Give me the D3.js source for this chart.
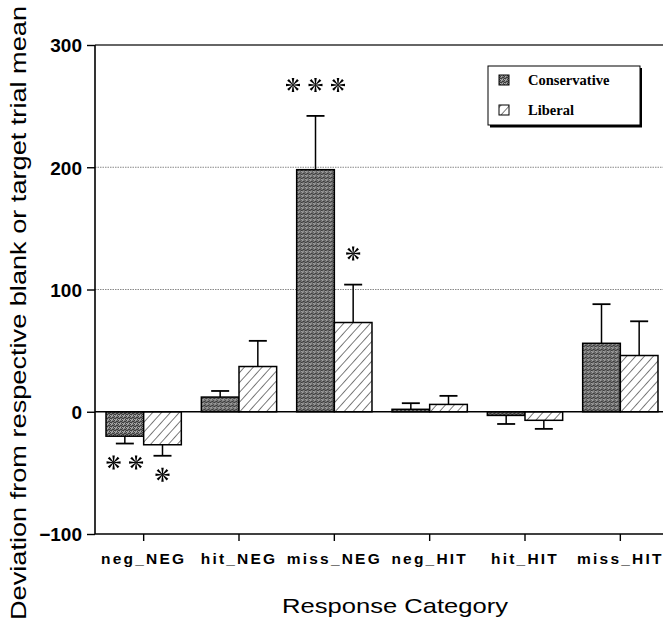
<!DOCTYPE html>
<html>
<head>
<meta charset="utf-8">
<script src="https://cdn.jsdelivr.net/npm/d3@7"></script>
<style>
  html, body { margin: 0; padding: 0; background: #fff; }
  svg { display: block; }
</style>
</head>
<body>
<svg id="chart" width="667" height="625"></svg>
<script>
// Response categories on the x axis
const categories = ["neg_NEG", "hit_NEG", "miss_NEG", "neg_HIT", "hit_HIT", "miss_HIT"];
const seriesNames = ["Conservative", "Liberal"];
// Mean deviation (ms) per category
const conservative = [-20, 12, 198, 2, -3, 56];
const liberal = [-27, 37, 73, 6, -7, 46];
// Error bar half-lengths
const conservativeErr = [6, 5, 44, 5, 7, 32];
const liberalErr = [9, 21, 31, 7, 7, 28];
// Y axis ticks
const yTicks = [-100, 0, 100, 200, 300];
// Significance markers: category, series, number of asterisks
const stars = [
  { cat: "neg_NEG", series: "Conservative", n: 2 },
  { cat: "neg_NEG", series: "Liberal", n: 1 },
  { cat: "miss_NEG", series: "Conservative", n: 3 },
  { cat: "miss_NEG", series: "Liberal", n: 1 }
];

const svg = d3.select("#chart");
const plot = { left: 95, right: 663, top: 45, bottom: 534 };

const y = d3.scaleLinear().domain([-100, 300]).range([plot.bottom, plot.top]);
const x0 = d3.scaleBand().domain(categories).range([96, 668]).paddingInner(0.21).paddingOuter(0.105);
const x1 = d3.scaleBand().domain(seriesNames).range([0, x0.bandwidth()]);

const defs = svg.append("defs");

// Stippled grey fill for the conservative bars
const stip = defs.append("pattern")
  .attr("id", "stipple").attr("patternUnits", "userSpaceOnUse")
  .attr("width", 4).attr("height", 4);
stip.append("rect").attr("width", 4).attr("height", 4).attr("fill", "#7c7c7c");
[[0,0],[2,1],[1,2],[3,3],[3,1],[0,2]].forEach(([a,b]) =>
  stip.append("rect").attr("x", a).attr("y", b).attr("width", 1).attr("height", 1).attr("fill", "#3c3c3c"));
[[1,0],[0,3],[2,3]].forEach(([a,b]) =>
  stip.append("rect").attr("x", a).attr("y", b).attr("width", 1).attr("height", 1).attr("fill", "#b0b0b0"));

// Diagonal hatching for the liberal bars
const hatch = defs.append("pattern")
  .attr("id", "hatch").attr("patternUnits", "userSpaceOnUse")
  .attr("width", 6.6).attr("height", 6.6)
  .attr("patternTransform", "rotate(42)");
hatch.append("rect").attr("width", 6.6).attr("height", 6.6).attr("fill", "#fff");
hatch.append("line").attr("x1", 0).attr("y1", 0).attr("x2", 0).attr("y2", 6.6)
  .attr("stroke", "#111").attr("stroke-width", 1.1);

const fills = { Conservative: "url(#stipple)", Liberal: "url(#hatch)" };

// Grid lines
svg.append("g").selectAll("line").data([100, 200, 300]).join("line")
  .attr("x1", plot.left).attr("x2", plot.right)
  .attr("y1", d => y(d)).attr("y2", d => y(d))
  .attr("stroke", d => d === 300 ? "#333" : "#888")
  .attr("stroke-width", d => d === 300 ? 1.4 : 1)
  .attr("stroke-dasharray", d => d === 300 ? null : "1.5,1");

// Y axis
const yAxis = svg.append("g").attr("transform", `translate(${plot.left},0)`)
  .call(d3.axisLeft(y).tickValues(yTicks).tickSize(8).tickPadding(5).tickFormat(d3.format("d")));
yAxis.select(".domain").attr("stroke-width", 1.6).attr("d", `M0,${plot.top}V${plot.bottom}`);
yAxis.selectAll(".tick line").attr("stroke-width", 1.4);
yAxis.selectAll("text")
  .attr("font-family", "'Liberation Sans', Arial, sans-serif")
  .attr("font-weight", "bold").attr("font-size", 19).attr("fill", "#000")
  .attr("dy", "0.36em");

// X axis
const xAxis = svg.append("g").attr("transform", `translate(0,${plot.bottom})`)
  .call(d3.axisBottom(x0).tickSize(7).tickPadding(11));
xAxis.select(".domain").attr("stroke-width", 1.6).attr("d", `M${plot.left},0H${plot.right}`);
xAxis.selectAll(".tick line").attr("stroke-width", 1.4);
xAxis.selectAll("text")
  .attr("font-family", "'Liberation Sans', Arial, sans-serif")
  .attr("font-weight", "bold").attr("font-size", 15.5).attr("fill", "#000")
  .attr("letter-spacing", 2.2).attr("dy", "0.75em");

// Bars
const rows = categories.map((c, i) => ({
  cat: c,
  vals: [
    { series: "Conservative", v: conservative[i], e: conservativeErr[i] },
    { series: "Liberal", v: liberal[i], e: liberalErr[i] }
  ]
}));

const groups = svg.append("g").selectAll("g").data(rows).join("g")
  .attr("transform", d => `translate(${x0(d.cat)},0)`);

// Error bars (drawn first so bars cover the stem)
groups.selectAll("g.err").data(d => d.vals).join("g").attr("class", "err")
  .each(function(d) {
    const g = d3.select(this);
    const cx = x1(d.series) + x1.bandwidth() / 2;
    const tip = d.v >= 0 ? d.v + d.e : d.v - d.e;
    g.append("line").attr("x1", cx).attr("x2", cx)
      .attr("y1", y(d.v)).attr("y2", y(tip))
      .attr("stroke", "#000").attr("stroke-width", 1.5);
    g.append("line").attr("x1", cx - 9).attr("x2", cx + 9)
      .attr("y1", y(tip)).attr("y2", y(tip))
      .attr("stroke", "#000").attr("stroke-width", 1.8);
  });

groups.selectAll("rect").data(d => d.vals).join("rect")
  .attr("x", d => x1(d.series))
  .attr("width", x1.bandwidth())
  .attr("y", d => y(Math.max(0, d.v)))
  .attr("height", d => Math.abs(y(d.v) - y(0)))
  .attr("fill", d => fills[d.series])
  .attr("stroke", "#000").attr("stroke-width", 1.5);

// Zero line
svg.append("line").attr("x1", plot.left).attr("x2", plot.right)
  .attr("y1", y(0)).attr("y2", y(0))
  .attr("stroke", "#000").attr("stroke-width", 1.5);

// Asterisks marking significant deviations: eight tapered spokes
function asterisk(g, cx, cy, r) {
  for (let k = 0; k < 8; k++) {
    const a = k * Math.PI / 4 + Math.PI / 2;
    const ux = Math.cos(a), uy = Math.sin(a), px = -uy, py = ux;
    const w0 = 0.25, w1 = 1.25;
    const d = `M${cx + px * w0},${cy + py * w0}` +
      `L${cx + ux * r + px * w1},${cy + uy * r + py * w1}` +
      `L${cx + ux * r - px * w1},${cy + uy * r - py * w1}` +
      `L${cx - px * w0},${cy - py * w0}Z`;
    g.append("path").attr("d", d).attr("fill", "#000");
  }
}
const starG = svg.append("g");
stars.forEach(s => {
  const i = categories.indexOf(s.cat);
  const v = s.series === "Conservative" ? conservative[i] : liberal[i];
  const e = s.series === "Conservative" ? conservativeErr[i] : liberalErr[i];
  const cx = x0(s.cat) + x1(s.series) + x1.bandwidth() / 2;
  const cy = v >= 0 ? y(v + e) - 31 : y(v - e) + 19;
  for (let j = 0; j < s.n; j++) {
    asterisk(starG, cx + (j - (s.n - 1) / 2) * 22.5, cy, 7);
  }
});

// Legend
const lg = svg.append("g");
lg.append("rect").attr("x", 490).attr("y", 68).attr("width", 152).attr("height", 59.5).attr("fill", "#000");
lg.append("rect").attr("x", 488).attr("y", 66).attr("width", 152).attr("height", 59)
  .attr("fill", "#fff").attr("stroke", "#000").attr("stroke-width", 1);
seriesNames.forEach((s, i) => {
  const yy = 80 + i * 30;
  lg.append("rect").attr("x", 499).attr("y", yy - 5).attr("width", 10).attr("height", 10)
    .attr("fill", fills[s]).attr("stroke", "#000").attr("stroke-width", 1);
  lg.append("text").attr("x", 528).attr("y", yy + 5)
    .attr("font-family", "'Liberation Serif', 'Times New Roman', serif")
    .attr("font-weight", "bold").attr("font-size", 14.5).text(s);
});

// Axis titles
svg.append("text")
  .attr("x", 282).attr("y", 613)
  .attr("font-family", "'Liberation Sans', Arial, sans-serif").attr("font-size", 21)
  .attr("textLength", 226).attr("lengthAdjust", "spacingAndGlyphs")
  .text("Response Category");
svg.append("text")
  .attr("transform", "translate(26,620) rotate(-90)")
  .attr("font-family", "'Liberation Sans', Arial, sans-serif").attr("font-size", 21.5)
  .attr("textLength", 614).attr("lengthAdjust", "spacingAndGlyphs")
  .text("Deviation from respective blank or target trial mean");
</script>
</body>
</html>
